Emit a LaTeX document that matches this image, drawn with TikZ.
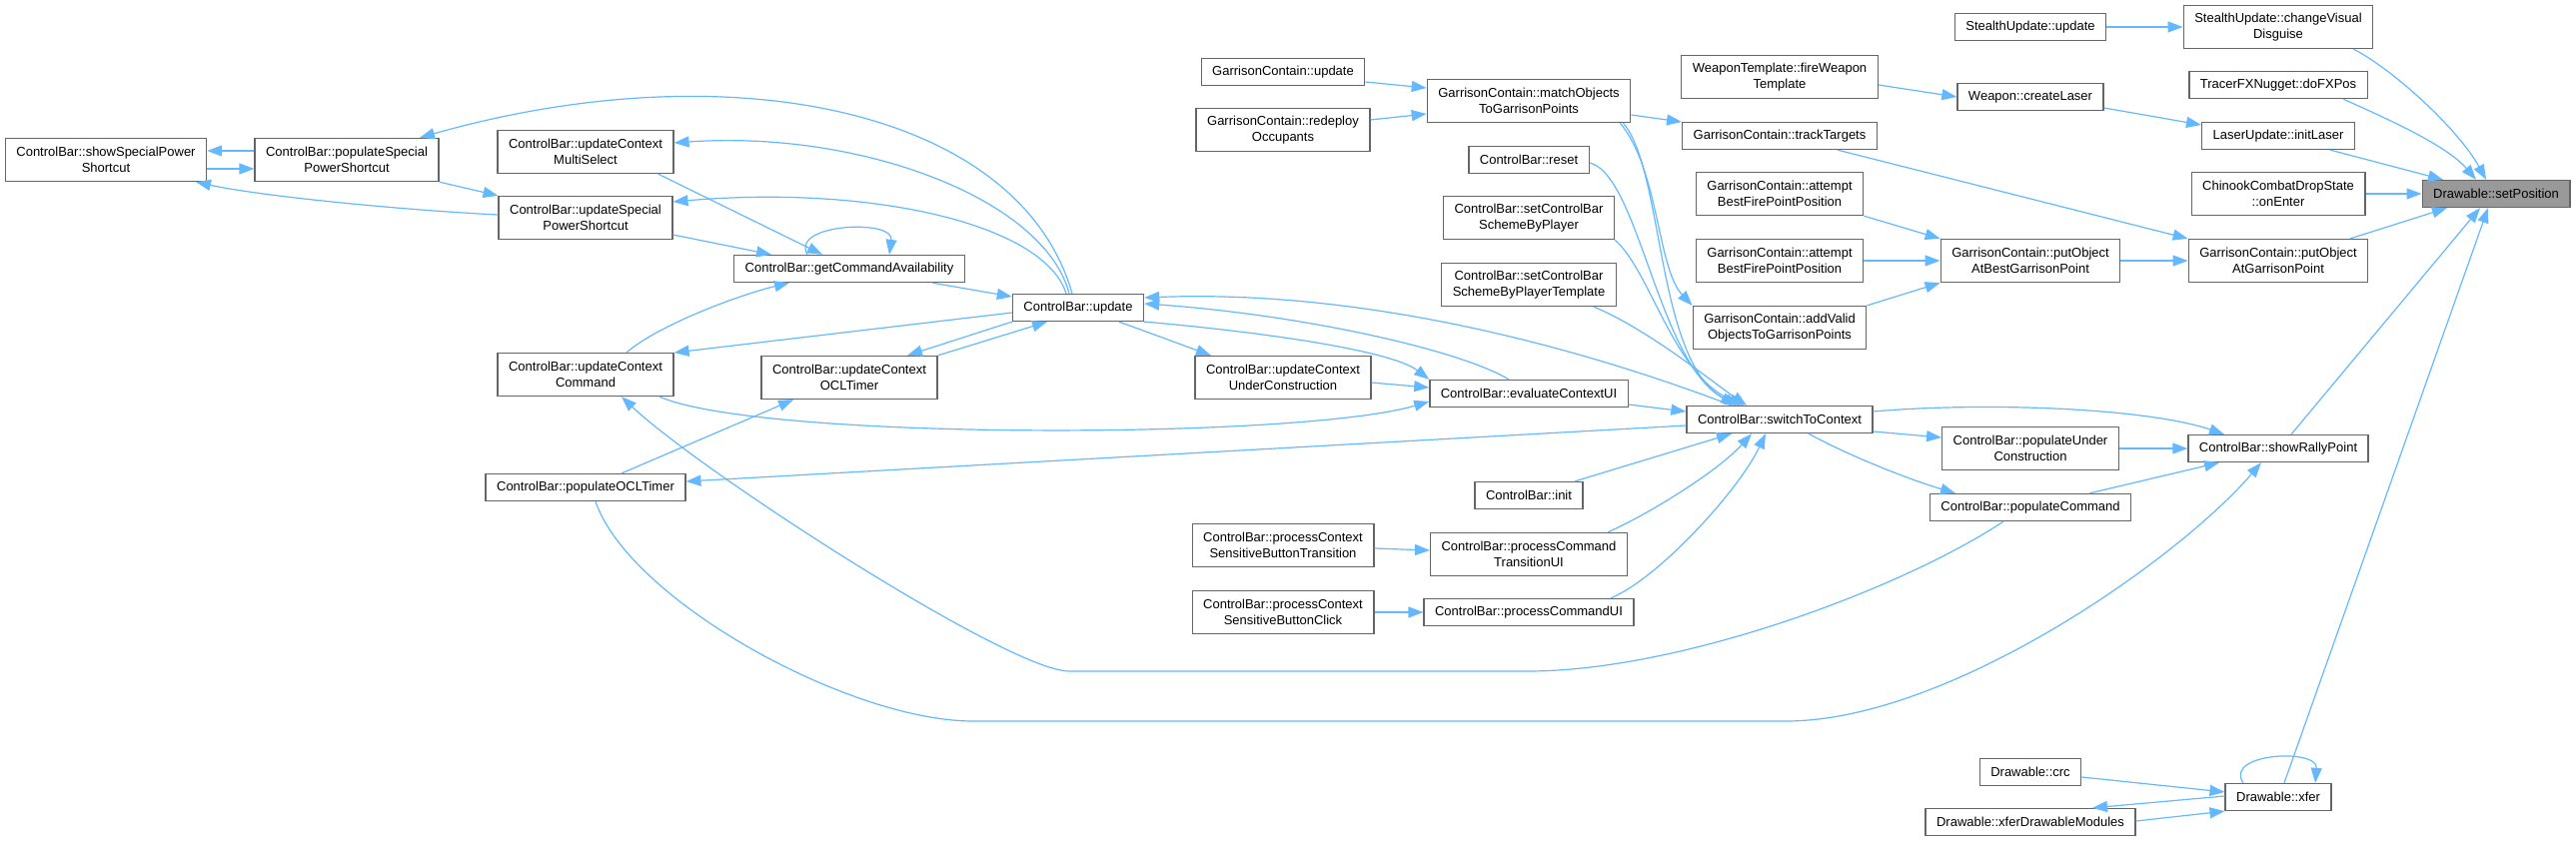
\documentclass[tikz,border=0pt]{standalone}
\usepackage{fontspec}
\setmainfont{Liberation Sans}
\usetikzlibrary{arrows.meta}
\definecolor{edgeblue}{HTML}{63B8FF}
\definecolor{boxline}{HTML}{666666}
\definecolor{hlfill}{HTML}{999999}

\begin{document}
\begin{tikzpicture}[x=1pt,y=-1pt,
  fn/.style={draw=boxline,fill=white,line width=1.3pt,inner xsep=11pt,inner ysep=0pt,minimum height=27pt,align=center,font=\fontsize{13}{16}\selectfont},
  fn2/.style={fn,minimum height=43pt},
  call/.style={edgeblue,line width=1.2pt,-{Triangle[length=15pt,width=11pt]}}]
  \useasboundingbox (0,0) rectangle (2578,843);

  \node[fn2] (showSpecial) at (106,160) {ControlBar::showSpecialPower\\Shortcut};
  \node[fn2] (populateSpecial) at (347,160) {ControlBar::populateSpecial\\PowerShortcut};
  \node[fn2] (multiSelect) at (586,152) {ControlBar::updateContext\\MultiSelect};
  \node[fn2] (updateSpecial) at (586,218) {ControlBar::updateSpecial\\PowerShortcut};
  \node[fn2] (ctxCommand) at (586,375) {ControlBar::updateContext\\Command};
  \node[fn] (populateOCL) at (586,488) {ControlBar::populateOCLTimer};
  \node[fn] (getCmdAvail) at (850,269) {ControlBar::getCommandAvailability};
  \node[fn2] (ctxOCL) at (850,378) {ControlBar::updateContext\\OCLTimer};
  \node[fn] (cbUpdate) at (1079,308) {ControlBar::update};
  \node[fn] (gcUpdate) at (1284,72) {GarrisonContain::update};
  \node[fn2] (redeploy) at (1284,130) {GarrisonContain::redeploy\\Occupants};
  \node[fn2] (ctxUnder) at (1284,378) {ControlBar::updateContext\\UnderConstruction};
  \node[fn2] (procBtnTrans) at (1284,546) {ControlBar::processContext\\SensitiveButtonTransition};
  \node[fn2] (procBtnClick) at (1284,613) {ControlBar::processContext\\SensitiveButtonClick};
  \node[fn2] (matchObj) at (1530,101) {GarrisonContain::matchObjects\\ToGarrisonPoints};
  \node[fn] (reset) at (1530,160) {ControlBar::reset};
  \node[fn2] (schemePlayer) at (1530,218) {ControlBar::setControlBar\\SchemeByPlayer};
  \node[fn2] (schemeTmpl) at (1530,285) {ControlBar::setControlBar\\SchemeByPlayerTemplate};
  \node[fn] (evalCtx) at (1530,394) {ControlBar::evaluateContextUI};
  \node[fn] (init) at (1530,496) {ControlBar::init};
  \node[fn2] (procTransUI) at (1530,555) {ControlBar::processCommand\\TransitionUI};
  \node[fn] (procUI) at (1530,613) {ControlBar::processCommandUI};
  \node[fn2] (fireWeapon) at (1781,77) {WeaponTemplate::fireWeapon\\Template};
  \node[fn] (trackTargets) at (1781,136) {GarrisonContain::trackTargets};
  \node[fn2] (attemptA) at (1781,194) {GarrisonContain::attempt\\BestFirePointPosition};
  \node[fn2] (attemptB) at (1781,261) {GarrisonContain::attempt\\BestFirePointPosition};
  \node[fn2] (addValid) at (1781,328) {GarrisonContain::addValid\\ObjectsToGarrisonPoints};
  \node[fn] (switchCtx) at (1781,420) {ControlBar::switchToContext};
  \node[fn] (stealthUpd) at (2032,27) {StealthUpdate::update};
  \node[fn] (createLaser) at (2032,97) {Weapon::createLaser};
  \node[fn2] (putBest) at (2032,261) {GarrisonContain::putObject\\AtBestGarrisonPoint};
  \node[fn2] (popUnder) at (2032,449) {ControlBar::populateUnder\\Construction};
  \node[fn] (popCommand) at (2032,508) {ControlBar::populateCommand};
  \node[fn] (crc) at (2032,773) {Drawable::crc};
  \node[fn] (xferMods) at (2032,823) {Drawable::xferDrawableModules};
  \node[fn2] (disguise) at (2280,27) {StealthUpdate::changeVisual\\Disguise};
  \node[fn] (doFX) at (2280,85) {TracerFXNugget::doFXPos};
  \node[fn] (initLaser) at (2280,136) {LaserUpdate::initLaser};
  \node[fn2] (onEnter) at (2280,194) {ChinookCombatDropState\\::onEnter};
  \node[fn2] (putObj) at (2280,261) {GarrisonContain::putObject\\AtGarrisonPoint};
  \node[fn] (rally) at (2280,449) {ControlBar::showRallyPoint};
  \node[fn] (xfer) at (2280,798) {Drawable::xfer};
  \node[fn,fill=hlfill] (setPos) at (2498,194) {Drawable::setPosition};

  \draw[call] (stealthUpd) -- (disguise);
  \draw[call] ([xshift=-20]disguise.south east) .. controls +(39,20) and +(-28,-51) .. ([xshift=-10]setPos.north);
  \draw[call] ([xshift=65]doFX.south) .. controls +(40,18) and +(-30,-35) .. ([xshift=-20]setPos.north);
  \draw[call] ([xshift=52]initLaser.south) -- ([xshift=-53]setPos.north);
  \draw[call] (onEnter) -- (setPos);
  \draw[call] ([xshift=72]putObj.north) -- ([xshift=-49]setPos.south);
  \draw[call] ([xshift=13]rally.north) -- ([xshift=-16]setPos.south);
  \draw[call] ([xshift=6]xfer.north) -- ([xshift=-8]setPos.south);

  \draw[call] ([yshift=-8]fireWeapon.east) -- (createLaser.west);
  \draw[call] ([yshift=-11]createLaser.east) -- ([yshift=11]initLaser.west);
  \draw[call] ([xshift=58]trackTargets.south) -- (putObj.north west);
  \draw[call] (putBest) -- (putObj);
  \draw[call] (attemptA.south east) -- (putBest.north west);
  \draw[call] (attemptB) -- (putBest);
  \draw[call] (addValid.north east) -- (putBest.south west);
  \draw[call] ([yshift=-14]matchObj.east) -- ([yshift=14]trackTargets.west);
  \draw[call] ([yshift=-10]gcUpdate.east) -- ([yshift=13]matchObj.west);
  \draw[call] ([yshift=10]redeploy.east) -- ([yshift=-13]matchObj.west);
  \draw[call] ([xshift=-11]matchObj.south east) .. controls +(39,47) and +(-35,-37) .. (addValid.north west);

  \draw[call] ([xshift=-8]matchObj.south east) .. controls +(41,47) and +(-80,-46) .. ([xshift=-44]switchCtx.north);
  \draw[call] ([yshift=-3]reset.east) .. controls +(50,12) and +(-81,-36) .. ([xshift=-40]switchCtx.north);
  \draw[call] (schemePlayer.south east) .. controls +(35,30) and +(-70,-31) .. ([xshift=-36]switchCtx.north);
  \draw[call] ([xshift=65]schemeTmpl.south) .. controls +(55,23) and +(-38,-26) .. ([xshift=-33]switchCtx.north);
  \draw[call] ([yshift=-11]evalCtx.east) -- ([yshift=8]switchCtx.west);
  \draw[call] ([xshift=46]init.north) -- ([xshift=-48]switchCtx.south);
  \draw[call] ([xshift=79]procTransUI.north) .. controls +(41,-18) and +(-33,37) .. ([xshift=-28]switchCtx.south);
  \draw[call] ([xshift=82]procUI.north) .. controls +(48,-20) and +(-27,57) .. ([xshift=-14]switchCtx.south);
  \draw[call] ([yshift=-3]procBtnTrans.east) -- ([yshift=4]procTransUI.west);
  \draw[call] (procBtnClick) -- (procUI);

  \draw[call] ([yshift=-12]switchCtx.east) -- ([yshift=11]popUnder.west);
  \draw[call] ([yshift=8]switchCtx.east) .. controls +(114,-10) and +(-76,-26) .. ([xshift=-54]rally.north);
  \draw[call] ([xshift=29]switchCtx.south) .. controls +(40,22) and +(-47,-14) .. ([xshift=-75]popCommand.north);
  \draw[call] (popUnder) -- (rally);
  \draw[call] ([xshift=59]popCommand.north) -- ([xshift=-59]rally.south);
  \draw[call] ([yshift=-6]switchCtx.west) -- ([yshift=6]populateOCL.east);
  \draw[call] ([xshift=-48]switchCtx.north) .. controls +(-173,-66) and +(206,-8) .. ([yshift=10]cbUpdate.east);

  \draw[call] ([xshift=-20]evalCtx.north) .. controls +(-50,-30) and +(156,11) .. ([yshift=4]cbUpdate.east);
  \draw[call] (cbUpdate.south east) .. controls +(106,9) and +(-39,-30) .. (evalCtx.north west);
  \draw[call] ([xshift=41]cbUpdate.south) -- ([xshift=-72]ctxUnder.north);
  \draw[call] ([yshift=-5]ctxUnder.east) -- ([yshift=6]evalCtx.west);
  \draw[call] ([xshift=74]ctxCommand.south) .. controls +(100,44) and +(-129,38) .. ([yshift=-8]evalCtx.west);
  \draw[call] ([yshift=-5]cbUpdate.west) -- ([yshift=22]ctxCommand.east);
  \draw[call] (cbUpdate.south west) -- ([xshift=58]ctxOCL.north);
  \draw[call] (ctxOCL.north east) -- ([xshift=-31]cbUpdate.south);
  \draw[call] ([xshift=83]getCmdAvail.south) -- ([yshift=11]cbUpdate.west);
  \draw[call] ([xshift=-42]getCmdAvail.north) .. controls +(-18,-31) and +(5,-36) .. ([xshift=40]getCmdAvail.north);
  \draw[call] ([xshift=-16]multiSelect.south east) -- ([xshift=-27]getCmdAvail.north);
  \draw[call] ([yshift=-17]updateSpecial.east) -- ([xshift=-78]getCmdAvail.north);
  \draw[call] ([xshift=41]ctxCommand.north) .. controls +(33,-28) and +(-50,12) .. ([xshift=-60]getCmdAvail.south);
  \draw[call] ([xshift=-6]cbUpdate.north) .. controls +(-53,-185) and +(310,-88) .. ([xshift=73]populateSpecial.north);
  \draw[call] ([xshift=-9]cbUpdate.north) .. controls +(-25,-95) and +(186,-13) .. ([yshift=9]multiSelect.east);
  \draw[call] ([xshift=-12]cbUpdate.north) .. controls +(-22,-70) and +(197,-17) .. ([yshift=16]updateSpecial.east);

  \draw[call] ([yshift=9]populateSpecial.west) -- ([yshift=9]showSpecial.east);
  \draw[call] ([yshift=-9]showSpecial.east) -- ([yshift=-9]populateSpecial.west);
  \draw[call] (populateSpecial.south east) -- (updateSpecial.north west);
  \draw[call] ([yshift=3]updateSpecial.west) .. controls +(-100,-5) and +(64,14) .. ([xshift=90]showSpecial.south);
  \draw[call] ([xshift=36]populateOCL.north) -- ([xshift=-56]ctxOCL.south);

  \draw[call] ([xshift=-27]popCommand.south) .. controls +(-105,69) and +(151,0) .. (1529,672) -- (1070,672) .. controls +(-60,0) and +(78,74) .. ([xshift=36]ctxCommand.south);
  \draw[call] ([xshift=10]populateOCL.south) .. controls +(34,99) and +(-124,0) .. (974,722) -- (1787,722) .. controls +(163,0) and +(-83,97) .. ([xshift=-17]rally.south);

  \draw[call] ([yshift=-5]crc.east) -- ([yshift=5]xfer.west);
  \draw[call] ([yshift=1]xfer.west) -- ([xshift=62]xferMods.north);
  \draw[call] ([yshift=1]xferMods.east) -- (xfer.south west);
  \draw[call] ([xshift=-35]xfer.north) .. controls +(-20,-30) and +(3,-35) .. ([xshift=37]xfer.north);
\end{tikzpicture}
\end{document}
